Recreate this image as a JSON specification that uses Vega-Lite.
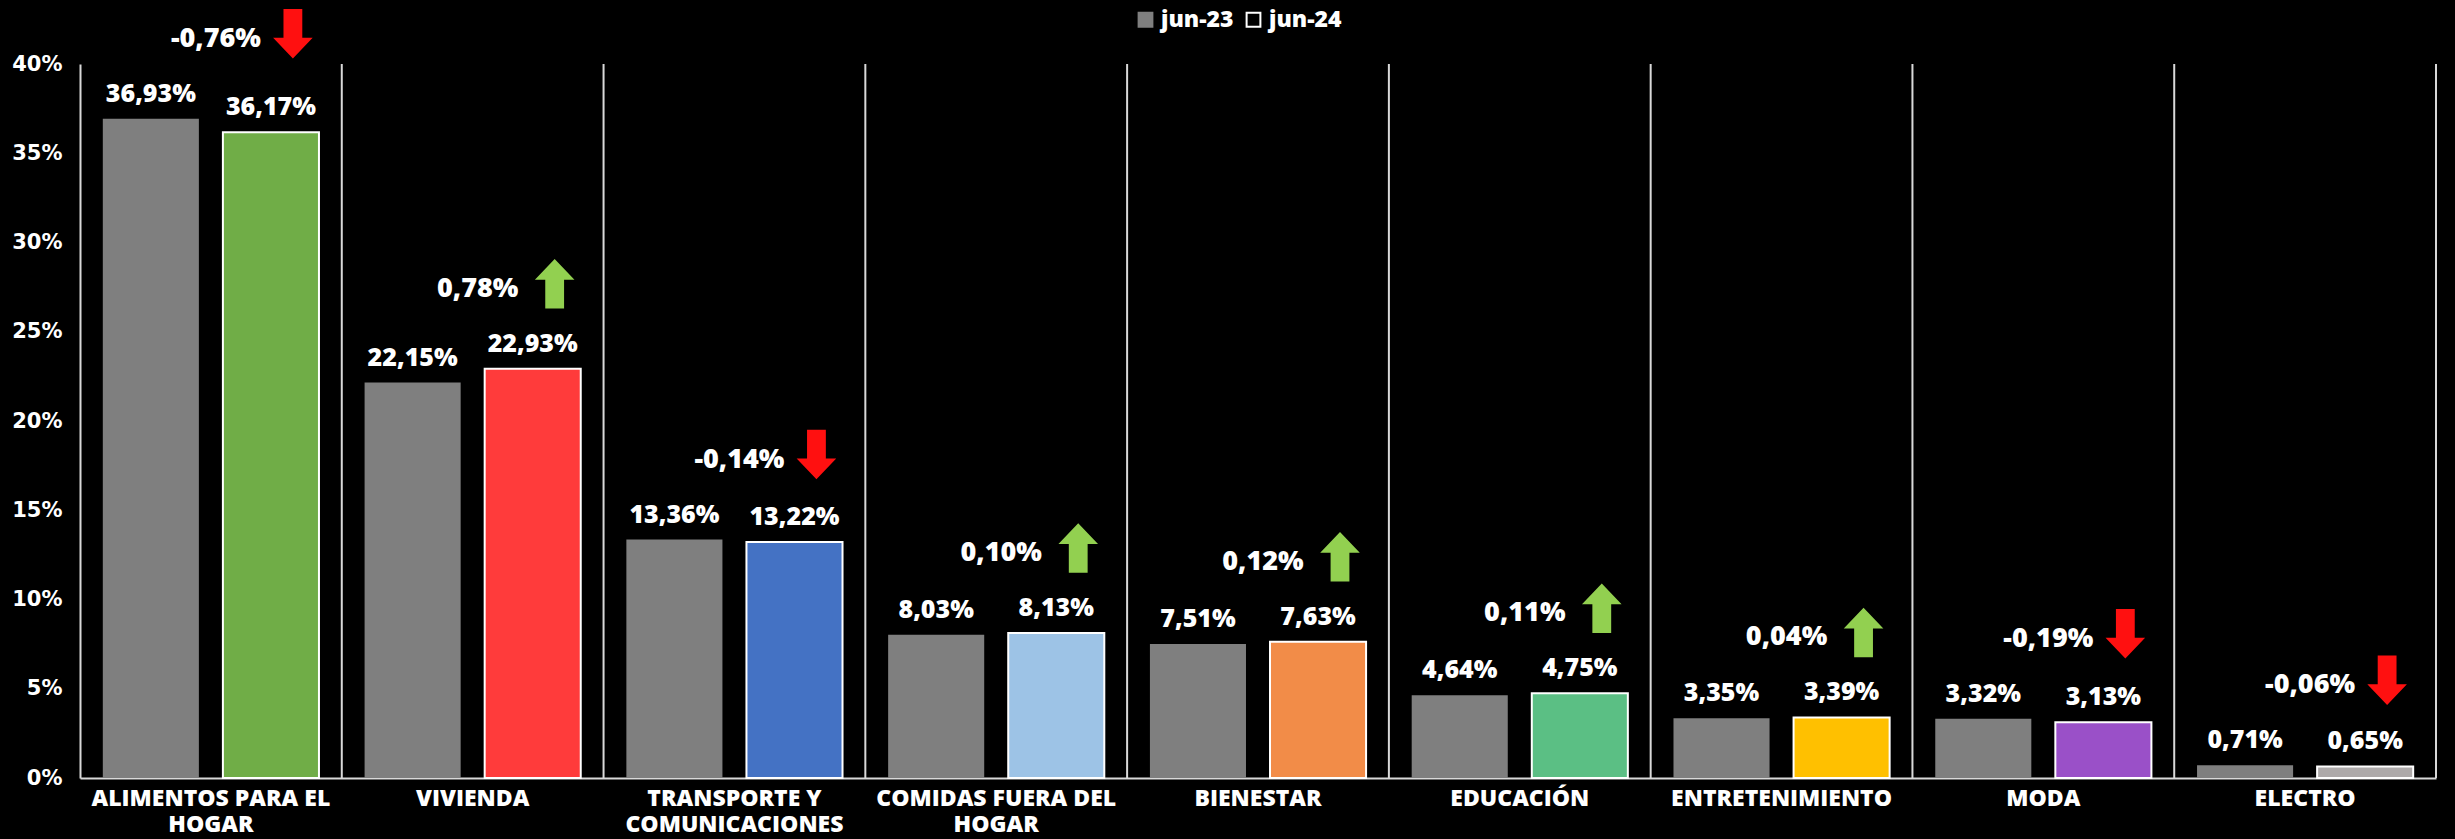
{
  "$schema": "https://vega.github.io/schema/vega-lite/v6.json",
  "width": 2356,
  "height": 714,
  "autosize": {"type": "none"},
  "padding": {"left": 80, "top": 64, "right": 19, "bottom": 61},
  "background": "#000000",
  "config": {
    "locale": {"number": {"decimal": ",", "thousands": ".", "grouping": [3], "currency": ["", " €"], "minus": "-"}},
    "view": {"stroke": null},
    "font": "Open Sans"
  },
  "datasets": {
    "cats": [
      {"categoria": "ALIMENTOS PARA EL HOGAR", "jun-23": 0.3693, "jun-24": 0.3617, "variacion": -0.0076},
      {"categoria": "VIVIENDA", "jun-23": 0.2215, "jun-24": 0.2293, "variacion": 0.0078},
      {"categoria": "TRANSPORTE Y COMUNICACIONES", "jun-23": 0.1336, "jun-24": 0.1322, "variacion": -0.0014},
      {"categoria": "COMIDAS FUERA DEL HOGAR", "jun-23": 0.0803, "jun-24": 0.0813, "variacion": 0.001},
      {"categoria": "BIENESTAR", "jun-23": 0.0751, "jun-24": 0.0763, "variacion": 0.0012},
      {"categoria": "EDUCACIÓN", "jun-23": 0.0464, "jun-24": 0.0475, "variacion": 0.0011},
      {"categoria": "ENTRETENIMIENTO", "jun-23": 0.0335, "jun-24": 0.0339, "variacion": 0.0004},
      {"categoria": "MODA", "jun-23": 0.0332, "jun-24": 0.0313, "variacion": -0.0019},
      {"categoria": "ELECTRO", "jun-23": 0.0071, "jun-24": 0.0065, "variacion": -0.0006}
    ]
  },
  "data": {"name": "cats"},
  "resolve": {"scale": {"fill": "independent"}},
  "layer": [
    {
      "mark": {"type": "rule", "color": "#d9d9d9", "strokeWidth": 2},
      "encoding": {
        "x": {
          "field": "categoria", "type": "nominal", "sort": null, "bandPosition": 1,
          "scale": {"paddingInner": 0, "paddingOuter": 0},
          "axis": {
            "title": null, "orient": "bottom", "domain": true, "domainColor": "#d9d9d9", "domainWidth": 2,
            "ticks": false, "grid": false, "labelAngle": 0, "labelColor": "#ffffff",
            "labelFont": "Open Sans", "labelFontWeight": 800, "labelFontSize": 23,
            "labelPadding": 9, "labelBaseline": "top", "labelLineHeight": 26, "labelLimit": 0,
            "labelExpr": "indexof(datum.value, ' ') > 0 && length(datum.value) > 12 ? [slice(datum.value, 0, lastindexof(datum.value, ' ')), slice(datum.value, lastindexof(datum.value, ' ') + 1)] : datum.value"
          }
        }
      }
    },
    {
      "transform": [{"fold": ["jun-23", "jun-24"], "as": ["periodo", "valor"]}],
      "mark": {"type": "bar", "strokeWidth": 0},
      "encoding": {
        "x": {"field": "categoria", "type": "nominal", "sort": null},
        "xOffset": {"field": "periodo", "type": "nominal", "sort": ["jun-23", "jun-24"], "scale": {"paddingInner": 0.2, "paddingOuter": 0.19}},
        "y": {
          "field": "valor", "type": "quantitative",
          "scale": {"domain": [0, 0.4], "nice": false},
          "axis": {
            "title": null, "format": ".0%", "values": [0, 0.05, 0.1, 0.15, 0.2, 0.25, 0.3, 0.35, 0.4],
            "domain": true, "domainColor": "#d9d9d9", "domainWidth": 2, "ticks": false, "grid": false,
            "labelColor": "#ffffff", "labelFont": "DejaVu Sans", "labelFontWeight": "bold", "labelFontSize": 21,
            "labelPadding": 18, "labelFlush": false
          }
        },
        "fill": {
          "field": "periodo", "type": "nominal",
          "scale": {"domain": ["jun-23", "jun-24"], "range": ["#7f7f7f", "#000000"]},
          "legend": {
            "title": null, "orient": "none", "legendX": 1054, "legendY": -56, "direction": "horizontal",
            "labelColor": "#ffffff", "labelFont": "Open Sans", "labelFontWeight": 800, "labelFontSize": 23,
            "symbolType": "square", "symbolSize": 190, "symbolStrokeWidth": 2, "columnPadding": 8, "labelOffset": 4,
            "encode": {"symbols": {"update": {"stroke": {"signal": "datum.value == 'jun-24' ? '#ffffff' : '#7f7f7f'"}}}}
          }
        }
      }
    },
    {
      "transform": [{"fold": ["jun-23", "jun-24"], "as": ["periodo", "valor"]}, {"filter": "datum.periodo == 'jun-24'"}],
      "mark": {"type": "bar", "stroke": "#ffffff", "strokeWidth": 2},
      "encoding": {
        "x": {"field": "categoria", "type": "nominal", "sort": null},
        "xOffset": {"field": "periodo", "type": "nominal", "sort": ["jun-23", "jun-24"]},
        "y": {"field": "valor", "type": "quantitative"},
        "fill": {
          "field": "categoria", "type": "nominal",
          "scale": {
            "domain": ["ALIMENTOS PARA EL HOGAR", "VIVIENDA", "TRANSPORTE Y COMUNICACIONES", "COMIDAS FUERA DEL HOGAR", "BIENESTAR", "EDUCACIÓN", "ENTRETENIMIENTO", "MODA", "ELECTRO"],
            "range": ["#70ad47", "#ff3b3b", "#4472c4", "#9dc3e6", "#f28c48", "#5bbf84", "#ffc000", "#9a50c8", "#aeaaaa"]
          },
          "legend": null
        }
      }
    },
    {
      "transform": [{"fold": ["jun-23", "jun-24"], "as": ["periodo", "valor"]}],
      "mark": {"type": "text", "baseline": "alphabetic", "dy": -17, "fontSize": 25, "fontWeight": 800, "font": "Open Sans", "fill": "#ffffff"},
      "encoding": {
        "x": {"field": "categoria", "type": "nominal", "sort": null},
        "xOffset": {"field": "periodo", "type": "nominal", "sort": ["jun-23", "jun-24"]},
        "y": {"field": "valor", "type": "quantitative"},
        "text": {"field": "valor", "type": "quantitative", "format": ".2%"}
      }
    },
    {
      "transform": [
        {"fold": ["jun-23", "jun-24"], "as": ["periodo", "valor"]},
        {"aggregate": [{"op": "max", "field": "valor", "as": "tope"}], "groupby": ["categoria", "variacion"]}
      ],
      "mark": {"type": "text", "baseline": "middle", "dy": -80, "dx": 5, "fontSize": 27, "fontWeight": 800, "font": "Open Sans", "fill": "#ffffff"},
      "encoding": {
        "x": {"field": "categoria", "type": "nominal", "sort": null},
        "y": {"field": "tope", "type": "quantitative"},
        "text": {"field": "variacion", "type": "quantitative", "format": ".2%"}
      }
    },
    {
      "transform": [
        {"fold": ["jun-23", "jun-24"], "as": ["periodo", "valor"]},
        {"aggregate": [{"op": "max", "field": "valor", "as": "tope"}], "groupby": ["categoria", "variacion"]}
      ],
      "mark": {"type": "point", "filled": true, "size": 2450, "opacity": 1, "strokeWidth": 0, "xOffset": 82, "yOffset": -85},
      "encoding": {
        "x": {"field": "categoria", "type": "nominal", "sort": null},
        "y": {"field": "tope", "type": "quantitative"},
        "shape": {
          "condition": {"test": "datum.variacion < 0", "value": "M -0.38 -1 L 0.38 -1 L 0.38 0.16 L 0.8 0.16 L 0 1 L -0.8 0.16 L -0.38 0.16 Z"},
          "value": "M -0.38 1 L 0.38 1 L 0.38 -0.16 L 0.8 -0.16 L 0 -1 L -0.8 -0.16 L -0.38 -0.16 Z"
        },
        "fill": {"condition": {"test": "datum.variacion < 0", "value": "#ff1010"}, "value": "#92d050"}
      }
    }
  ]
}
